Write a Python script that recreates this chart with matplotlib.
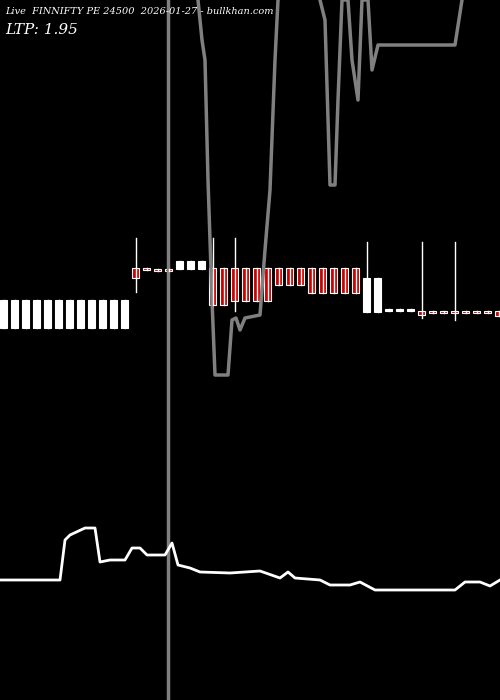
import numpy as np
import matplotlib.pyplot as plt
from matplotlib.patches import Rectangle

# candle data (chart units, y grows downward like the screen)
opens = [300]*12 + [268, 268, 269, 269, 261, 261, 261] + [268]*14 + [312, 312, 309, 309, 309] + [311]*8
closes = [328]*12 + [278, 270, 271, 271, 269, 269, 269, 305, 305, 301, 301, 301, 301, 285, 285, 285,
                     293, 293, 293, 293, 293, 278, 278, 311, 311, 311] + [315, 313, 313, 313, 313, 313, 313, 316]
highs = [300]*12 + [238, 268, 269, 269, 261, 261, 261, 238, 268, 238, 268, 268, 268, 268, 268, 268,
                    268, 268, 268, 268, 268, 242, 278, 309, 309, 309, 242, 311, 311, 242, 311, 311, 311, 311]
lows = [328]*12 + [292, 270, 271, 271, 269, 269, 269, 305, 305, 311, 301, 301, 301, 285, 285, 285,
                   293, 293, 293, 293, 293, 312, 312, 311, 311, 311, 318, 313, 313, 320, 313, 313, 313, 316]
up = [1]*12 + [0, 0, 0, 0, 1, 1, 1] + [0]*14 + [1]*5 + [0]*8

gray_x = [198, 202, 205, 208, 212, 215, 228, 232, 236, 240, 245, 260, 265, 270, 275, 278]
gray_y = [0, 40, 60, 180, 300, 375, 375, 320, 318, 330, 318, 315, 250, 190, 60, 0]
gray2_x = [320, 325, 330, 335, 338, 342, 348, 352, 358, 362, 368, 372, 378, 455, 462]
gray2_y = [0, 20, 185, 185, 100, 0, 0, 60, 100, 0, 0, 70, 45, 45, 0]

vol_x = [0, 60, 65, 70, 85, 95, 100, 110, 125, 132, 140, 147, 165, 172, 178, 190, 200, 230, 260,
         280, 288, 295, 320, 330, 350, 360, 375, 455, 465, 480, 490, 500]
vol_y = [580, 580, 540, 535, 528, 528, 562, 560, 560, 548, 548, 555, 555, 543, 565, 568, 572, 573,
         571, 578, 572, 578, 580, 585, 585, 582, 590, 590, 582, 582, 586, 580]

fig = plt.figure(figsize=(5, 7), dpi=100, facecolor='black')
ax = fig.add_axes([0, 0, 1, 1], facecolor='black')
ax.set_xlim(0, 500)
ax.set_ylim(700, 0)
ax.axis('off')

ax.axvline(168, color='#808080', lw=2.5)
ax.plot(gray_x, gray_y, color='#808080', lw=2.5)
ax.plot(gray2_x, gray2_y, color='#808080', lw=2.5)
ax.plot(vol_x, vol_y, color='white', lw=2)

for i in range(len(opens)):
    xc = 3.5 + 11 * i
    ax.plot([xc, xc], [highs[i], lows[i]], color='white', lw=1)
    top = min(opens[i], closes[i])
    h = max(abs(closes[i] - opens[i]), 2)
    if up[i]:
        ax.add_patch(Rectangle((xc - 3.5, top), 7, h, facecolor='white', edgecolor='white', lw=0.8))
    else:
        ax.add_patch(Rectangle((xc - 3.5, top), 7, h, facecolor='#cc0000', edgecolor='white', lw=0.8))

ax.text(5, 12, 'Live  FINNIFTY PE 24500  2026-01-27 - bullkhan.com', color='white',
        fontsize=7, family='DejaVu Serif', style='italic', va='center')
ax.text(5, 30, 'LTP: 1.95', color='white', fontsize=11, family='DejaVu Serif',
        style='italic', va='center')

fig.savefig('out.png', facecolor='black')
